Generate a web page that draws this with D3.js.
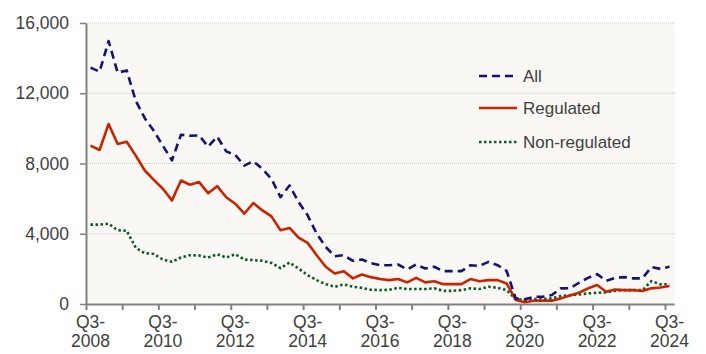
<!DOCTYPE html>
<html lang="en">
<head>
<meta charset="UTF-8"/>
<title>All / Regulated / Non-regulated</title>
<script src="https://d3js.org/d3.v7.min.js"></script>
<style>
  body { margin: 0; background: #ffffff; }
  text { font-family: "Liberation Sans", Arial, sans-serif; }
</style>
</head>
<body>
<div id="chart"></div>
<script>
// quarters Q3-2008 .. Q3-2024
var quarters = [];
for (var yr = 2008; yr <= 2024; yr++) {
  for (var q = 1; q <= 4; q++) {
    if ((yr == 2008 && q < 3) || (yr == 2024 && q > 3)) continue;
    quarters.push("Q" + q + "-" + yr);
  }
}

var allValues = [13460, 13230, 14970, 13170, 13300, 11570, 10580, 9860, 9010, 8180,
  9640, 9580, 9600, 8960, 9530, 8690, 8490, 7880, 8130, 7690,
  7130, 6080, 6750, 5800, 5050, 4010, 3250, 2720, 2780, 2460,
  2530, 2330, 2210, 2210, 2250, 1970, 2250, 2020, 2120, 1870,
  1870, 1870, 2210, 2170, 2400, 2210, 1880, 320, 270, 410,
  410, 510, 890, 900, 1210, 1490, 1700, 1320, 1490, 1530,
  1460, 1460, 2100, 2000, 2120];

var regulatedValues = [9020, 8770, 10250, 9110, 9240, 8450, 7600, 7070, 6560, 5900,
  7030, 6790, 6940, 6310, 6710, 6080, 5710, 5140, 5750, 5330,
  4990, 4200, 4330, 3780, 3480, 2780, 2120, 1740, 1870, 1460,
  1680, 1530, 1420, 1360, 1420, 1230, 1490, 1230, 1300, 1130,
  1130, 1130, 1420, 1300, 1360, 1360, 1170, 230, 100, 190,
  190, 190, 320, 480, 640, 890, 1080, 700, 830, 790,
  790, 740, 890, 940, 1020];

var nonRegulatedValues = [4520, 4520, 4575, 4200, 4170, 3200, 2890, 2850, 2530, 2400,
  2650, 2780, 2760, 2650, 2830, 2650, 2830, 2530, 2500, 2460,
  2340, 2040, 2360, 2020, 1640, 1360, 1130, 980, 1120, 980,
  920, 810, 790, 810, 920, 850, 850, 850, 890, 750,
  750, 790, 890, 850, 980, 920, 790, 280, 230, 280,
  280, 320, 450, 500, 550, 600, 640, 660, 750, 790,
  790, 790, 1300, 1120, 1130];

var yTicks = [0, 4000, 8000, 12000, 16000];
var seriesNames = ["All", "Regulated", "Non-regulated"];

var w = 706, h = 354;
var plotLeft = 86, plotRight = 674, plotTop = 23, plotBottom = 304;

var svg = d3.select("#chart").append("svg")
  .attr("width", w)
  .attr("height", h);

var xScale = d3.scaleBand()
  .domain(quarters)
  .range([plotLeft, plotRight])
  .padding(0);

var yScale = d3.scaleLinear()
  .domain([0, 16000])
  .range([plotBottom, plotTop]);

// plot background
svg.append("rect")
  .attr("x", plotLeft).attr("y", plotTop)
  .attr("width", plotRight - plotLeft + 1).attr("height", plotBottom - plotTop)
  .attr("fill", "#f9f8f5");

// gridlines
svg.append("g")
  .selectAll("line")
  .data(yTicks.slice(1))
  .enter().append("line")
  .attr("x1", plotLeft).attr("x2", plotRight + 1)
  .attr("y1", function(d) { return yScale(d); })
  .attr("y2", function(d) { return yScale(d); })
  .attr("stroke", "#c8c8c8")
  .attr("stroke-width", 1)
  .attr("stroke-dasharray", "1,1");

// y axis
var yAxis = d3.axisLeft(yScale)
  .tickValues(yTicks)
  .tickSize(6)
  .tickSizeOuter(0)
  .tickFormat(d3.format(","));
var gy = svg.append("g")
  .attr("transform", "translate(" + plotLeft + ",0)")
  .call(yAxis);
gy.select(".domain").attr("stroke", "#808080").attr("stroke-width", 2);
gy.selectAll(".tick line").attr("stroke", "#808080").attr("stroke-width", 1.5);
gy.selectAll(".tick text")
  .attr("x", -17)
  .attr("fill", "#404040")
  .attr("font-size", "17.5px");

// x axis ticks every 4 quarters at band edges
var edgeScale = d3.scaleLinear().domain([0, quarters.length]).range([plotLeft, plotRight]);
var xTickAxis = d3.axisBottom(edgeScale)
  .tickValues(d3.range(0, quarters.length, 4))
  .tickSize(6)
  .tickSizeOuter(0)
  .tickFormat("");
var gxt = svg.append("g")
  .attr("transform", "translate(0," + plotBottom + ")")
  .call(xTickAxis);
gxt.select(".domain").attr("stroke", "#808080").attr("stroke-width", 2);
gxt.selectAll(".tick line").attr("stroke", "#808080").attr("stroke-width", 2);

// x labels every 8 quarters
var labelCats = quarters.filter(function(d, i) { return i % 8 == 0; });
var xAxis = d3.axisBottom(xScale)
  .tickValues(labelCats)
  .tickSize(0);
var gx = svg.append("g")
  .attr("transform", "translate(0," + plotBottom + ")")
  .call(xAxis);
gx.select(".domain").remove();
gx.selectAll(".tick text").each(function(d) {
  var t = d3.select(this);
  var parts = d.split("-");
  t.text(null)
    .attr("dy", null)
    .attr("fill", "#404040")
    .attr("font-size", "17.5px")
    .attr("y", 24);
  t.append("tspan").attr("x", 0).attr("y", 24).text(parts[0] + "-");
  t.append("tspan").attr("x", 0).attr("y", 42.5).text(parts[1]);
});

// lines
var line = function(values) {
  return d3.line()
    .x(function(d, i) { return xScale(quarters[i]) + xScale.bandwidth() / 2; })
    .y(function(d) { return yScale(d); })(values);
};

var styles = [
  { values: allValues, color: "#14146e", dash: "8,5" },
  { values: regulatedValues, color: "#c82400", dash: null },
  { values: nonRegulatedValues, color: "#0b5a23", dash: "2.5,2.5" }
];

// draw non-regulated first, all on top
[2, 1, 0].forEach(function(k) {
  var s = styles[k];
  svg.append("path")
    .attr("d", line(s.values))
    .attr("fill", "none")
    .attr("stroke", s.color)
    .attr("stroke-width", 2.6)
    .attr("stroke-linejoin", "round")
    .attr("stroke-dasharray", s.dash);
});

// legend
var legend = svg.append("g").attr("transform", "translate(479,76)");
seriesNames.forEach(function(name, i) {
  var s = styles[i];
  var ly = [0, 32, 66][i];
  legend.append("line")
    .attr("x1", 0).attr("x2", 38)
    .attr("y1", ly).attr("y2", ly)
    .attr("stroke", s.color)
    .attr("stroke-width", 2.6)
    .attr("stroke-dasharray", s.dash);
  legend.append("text")
    .attr("x", 44).attr("y", ly)
    .attr("dy", "0.36em")
    .attr("fill", "#404040")
    .attr("font-size", "17px")
    .text(name);
});
</script>
</body>
</html>
